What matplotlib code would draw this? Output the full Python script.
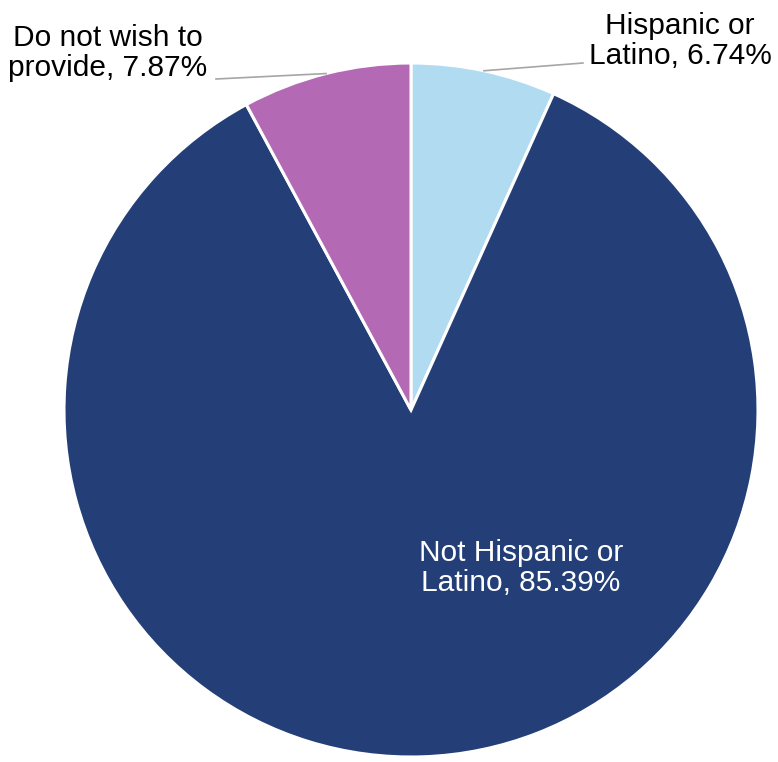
import numpy as np
from matplotlib import pyplot as plt

plt.rcParams['font.family'] = ['Liberation Sans', 'DejaVu Sans']

labels = ['Hispanic or\nLatino', 'Not Hispanic or\nLatino', 'Do not wish to\nprovide']
values = [6.74, 85.39, 7.87]
colors = ['#B1DBF1', '#243F77', '#B469B4']

W, H = 778, 762
cx, cy, R = 411, 410, 347  # pie centre / radius in pixels

def px(x, y):
    return ((x - cx) / R, (cy - y) / R)

fig = plt.figure(figsize=(W / 100, H / 100), dpi=100)
ax = fig.add_axes([0, 0, 1, 1])
wedges, _ = ax.pie(values, colors=colors, startangle=90, counterclock=False,
                   radius=1, wedgeprops=dict(edgecolor='white', linewidth=2.2))
ax.set_xlim(-cx / R, (W - cx) / R)
ax.set_ylim(-(H - cy) / R, cy / R)
ax.set_aspect('equal')
ax.axis('off')

txt = [l + ', %.2f%%' % v for l, v in zip(labels, values)]
fs = 21.5

# outside labels with leader lines
outside = {0: (px(680, 41), px(583, 63)), 2: (px(108, 53), px(216, 79))}
for i, (tpos, lend) in outside.items():
    w = wedges[i]
    ang = np.deg2rad((w.theta1 + w.theta2) / 2)
    start = (np.cos(ang), np.sin(ang))
    ax.plot([start[0], lend[0]], [start[1], lend[1]], color='#A6A6A6', lw=1.2)
    ax.text(tpos[0], tpos[1], txt[i], ha='center', va='center', fontsize=fs,
            color='black', linespacing=1.12)

ax.text(*px(521, 568), txt[1], ha='center', va='center', fontsize=fs,
        color='white', linespacing=1.12)

fig.savefig('out.png', dpi=100)
